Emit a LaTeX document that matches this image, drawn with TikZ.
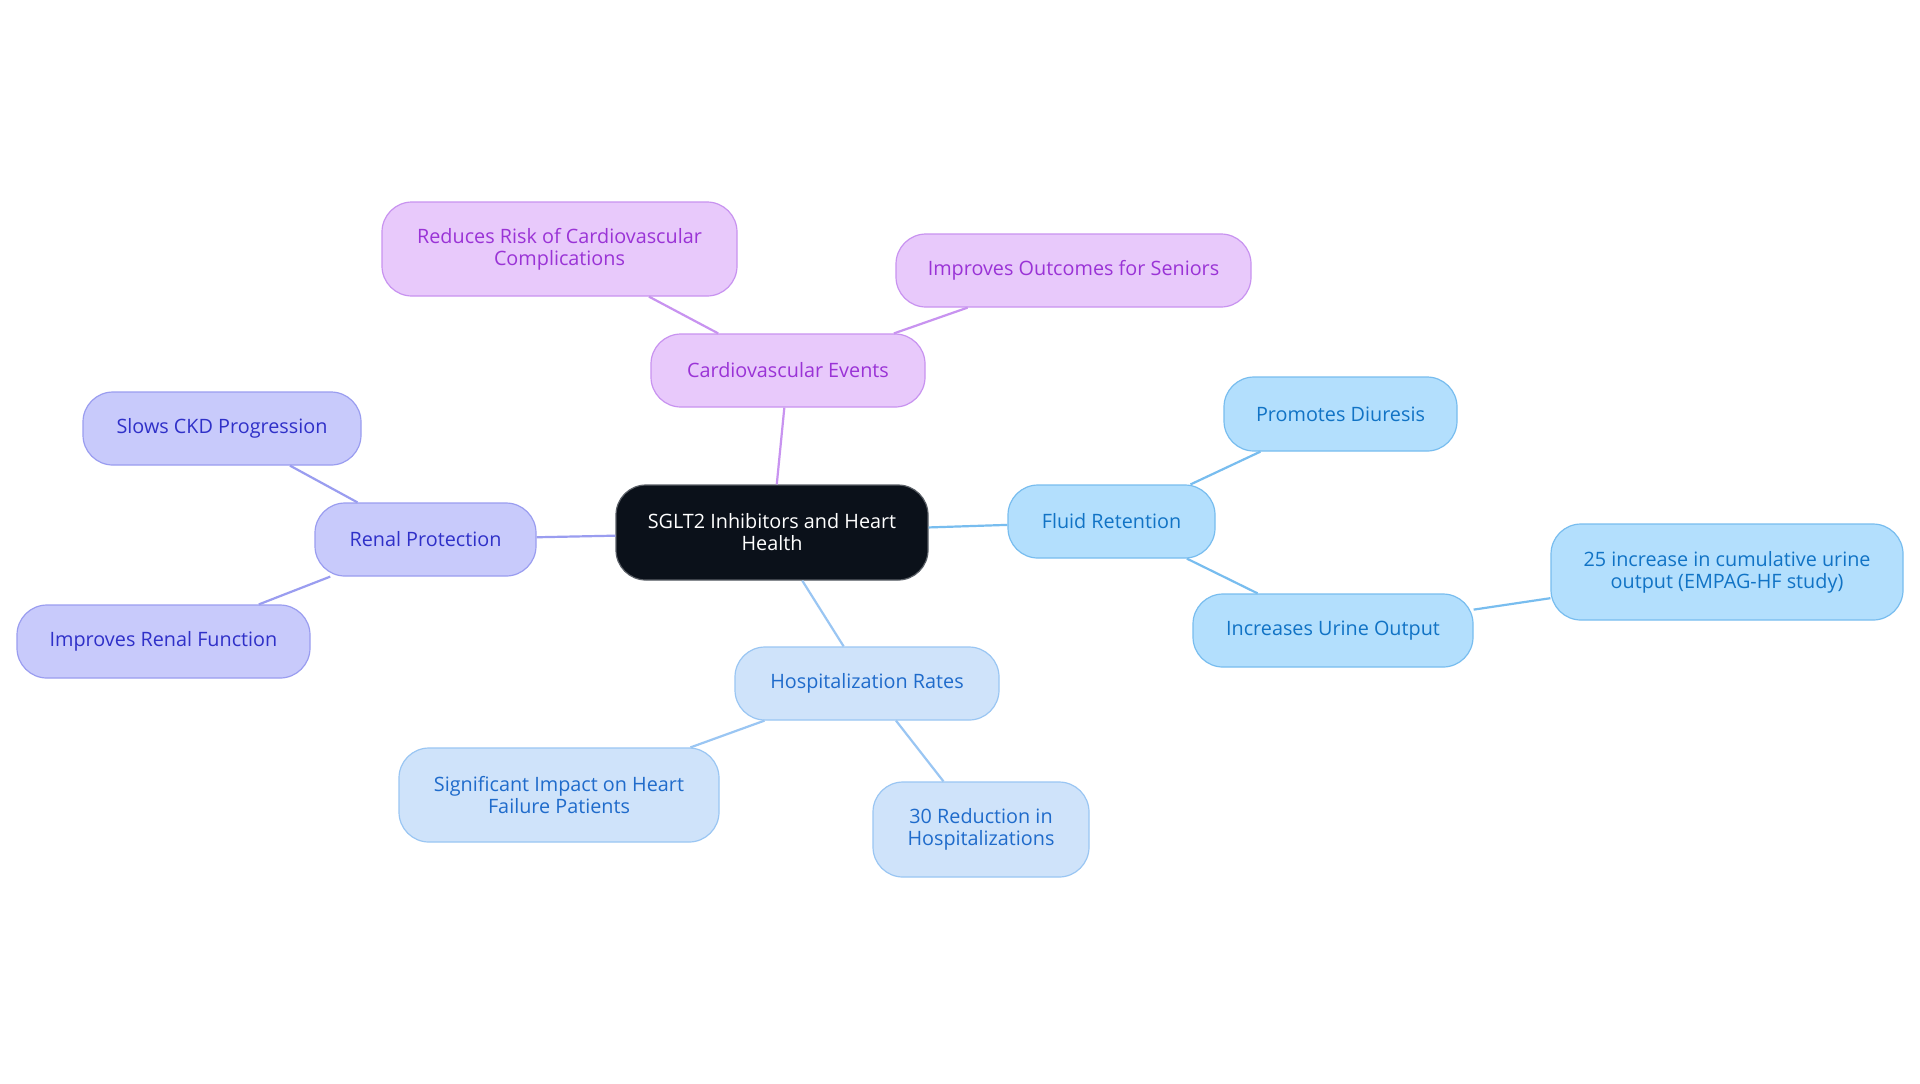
\documentclass[tikz,border=0pt]{standalone}
\usepackage{fontspec}
\setmainfont{Open Sans}
\begin{document}
\begin{tikzpicture}[x=0.5pt,y=-0.5pt,
  base/.style={rounded corners=15pt, line width=0.6pt, align=center, inner sep=0pt, font=\fontsize{9.9}{11}\selectfont},
  rootbox/.style={base, fill=root, draw=rootline, text=white},
  purplebox/.style={base, fill=purfill, draw=purline, text=purtext},
  bluebox/.style={base, fill=bluefill, draw=blueline, text=bluetext},
  renalbox/.style={base, fill=renfill, draw=renline, text=rentext},
  hospbox/.style={base, fill=hosfill, draw=hosline, text=hostext},
  edge/.style={line width=1.1pt}
]
\definecolor{root}{HTML}{0B111A}
\definecolor{rootline}{HTML}{5A5F66}
\definecolor{purfill}{HTML}{E8C9FB}
\definecolor{purline}{HTML}{C893F0}
\definecolor{purtext}{HTML}{9A33D6}
\definecolor{bluefill}{HTML}{B3DFFD}
\definecolor{blueline}{HTML}{78BDEF}
\definecolor{bluetext}{HTML}{1173C5}
\definecolor{renfill}{HTML}{C8CAFB}
\definecolor{renline}{HTML}{9A9DF0}
\definecolor{rentext}{HTML}{2F30C8}
\definecolor{hosfill}{HTML}{CFE3FA}
\definecolor{hosline}{HTML}{9AC6F3}
\definecolor{hostext}{HTML}{1F6BCB}
\useasboundingbox[fill=white] (0,0) rectangle (1920,1083);

\node[rootbox, minimum width=156pt, minimum height=47.5pt] (c) at (772,532.5) {SGLT2 Inhibitors and Heart\\Health};

\node[purplebox, minimum width=137pt, minimum height=36.5pt] (cv) at (788,370.5) {Cardiovascular Events};
\node[purplebox, minimum width=177.5pt, minimum height=47pt] (rr) at (559.5,249) {Reduces Risk of Cardiovascular\\Complications};
\node[purplebox, minimum width=177.5pt, minimum height=36.5pt] (io) at (1073.5,270.5) {Improves Outcomes for Seniors};

\node[bluebox, minimum width=103.5pt, minimum height=36.5pt] (fr) at (1111.5,521.5) {Fluid Retention};
\node[bluebox, minimum width=116.5pt, minimum height=37pt] (pd) at (1340.5,414) {Promotes Diuresis};
\node[bluebox, minimum width=140pt, minimum height=36.5pt] (iu) at (1333,630.5) {Increases Urine Output};
\node[bluebox, minimum width=176pt, minimum height=48pt] (inc) at (1727,572) {25 increase in cumulative urine\\output (EMPAG-HF study)};

\node[renalbox, minimum width=110.5pt, minimum height=36.5pt] (rp) at (425.5,539.5) {Renal Protection};
\node[renalbox, minimum width=139pt, minimum height=36.5pt] (sc) at (222,428.5) {Slows CKD Progression};
\node[renalbox, minimum width=146.5pt, minimum height=36.5pt] (ir) at (163.5,641.5) {Improves Renal Function};

\node[hospbox, minimum width=132pt, minimum height=36.5pt] (hr) at (867,683.5) {Hospitalization Rates};
\node[hospbox, minimum width=160pt, minimum height=47pt] (si) at (559,795) {Significant Impact on Heart\\Failure Patients};
\node[hospbox, minimum width=108pt, minimum height=47.5pt] (rh) at (981,829.5) {30 Reduction in\\Hospitalizations};

\draw[edge, purline] (c) -- (cv);
\draw[edge, purline] (cv) -- (rr);
\draw[edge, purline] (cv) -- (io);
\draw[edge, blueline] (c) -- (fr);
\draw[edge, blueline] (fr) -- (pd);
\draw[edge, blueline] (fr) -- (iu);
\draw[edge, blueline] (iu) -- (inc);
\draw[edge, renline] (c) -- (rp);
\draw[edge, renline] (rp) -- (sc);
\draw[edge, renline] (rp) -- (ir);
\draw[edge, hosline] (c) -- (hr);
\draw[edge, hosline] (hr) -- (si);
\draw[edge, hosline] (hr) -- (rh);
\end{tikzpicture}
\end{document}
